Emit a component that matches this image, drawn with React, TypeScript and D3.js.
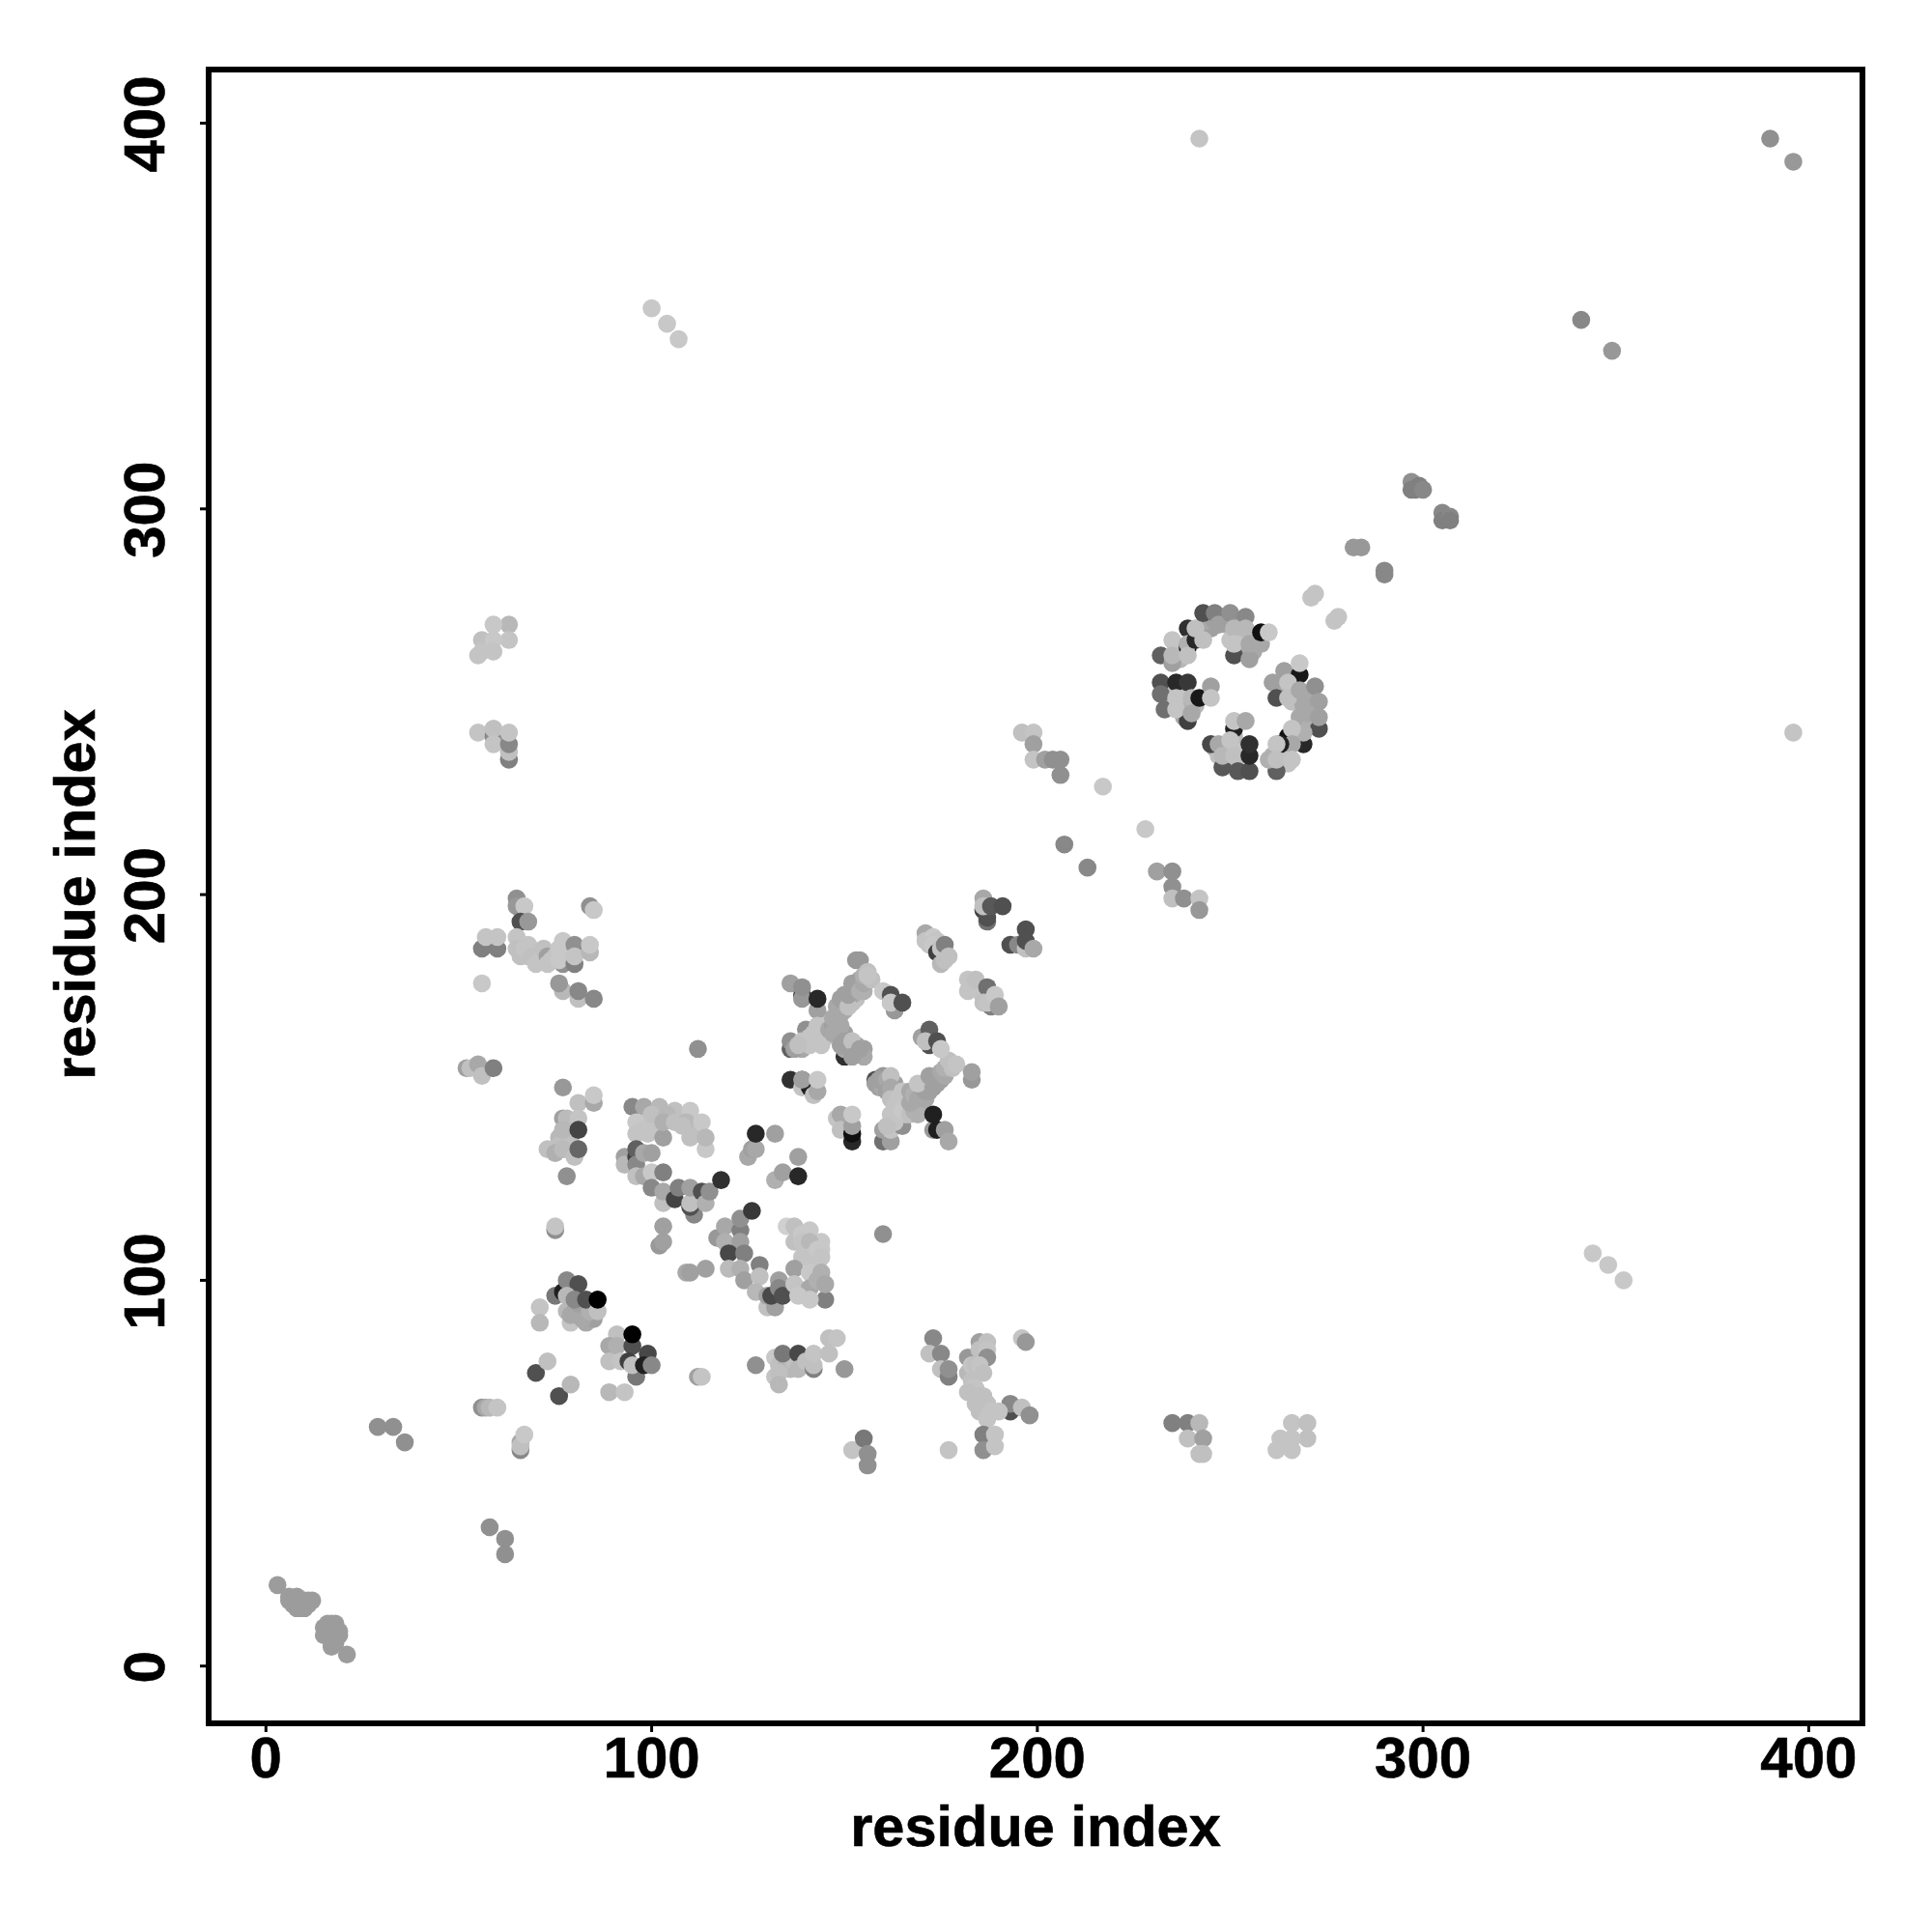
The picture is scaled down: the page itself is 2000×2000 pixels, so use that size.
import React from "react";
import * as d3 from "d3";

type P = [number, number, number];

const xTicks = [0, 100, 200, 300, 400];
const yTicks = [0, 100, 200, 300, 400];
const axisTitle = "residue index";

// [residue x, residue y, grey level]
const nTerminal: P[] = [[3,21,0x9c],[6,18,0x9c],[7,17,0x9c],[8,18,0x9c],[8,17,0x9c],[9,17,0x9c],[10,17,0x9c],[11,17,0x9c],[8,15,0x9c],[9,16,0x9c],[10,15,0x9c],[9,15,0x9c],[8,16,0x9c],[11,16,0x9c],[7,16,0x9c],[6,17,0x9c],[12,17,0x9c],[15,10,0x9c],[16,9,0x9c],[17,10,0x9c],[18,11,0x9c],[18,9,0x9c],[17,7,0x9c],[17,6,0x9c],[16,11,0x9c],[17,11,0x9c],[18,10,0x9c],[19,9,0x9c],[18,8,0x9c],[18,7,0x9c],[16,8,0x9c],[17,8,0x9c],[17,5,0x9c],[18,6,0x9c],[19,8,0x9c],[15,8,0x9c],[21,3,0x9c]];
const lowLeft: P[] = [[29,62,0x90],[33,62,0x90],[36,58,0x90],[58,36,0x90],[62,33,0x90],[62,29,0x90],[56,67,0x90],[57,67,0xa8],[58,67,0xb8],[60,67,0xc4],[66,56,0x88],[66,58,0xa8],[66,57,0xc0],[67,60,0xc8]];
const block70: P[] = [[70,76,0x50],[73,79,0xc0],[76,70,0x50],[79,73,0xb8],[71,93,0xc4],[71,89,0xb8],[75,96,0x78],[77,97,0x20],[78,100,0x88],[81,99,0x50],[79,89,0xc4],[83,89,0xa8],[85,90,0xa0],[78,92,0xb8],[79,91,0xa8],[83,92,0xa0],[80,92,0xa8],[82,90,0xa8],[81,94,0xa0],[84,92,0xb0],[78,96,0xb8],[80,95,0x88],[83,95,0x50],[86,92,0xc0],[86,95,0x00]];
const block90: P[] = [[89,71,0xb8],[93,71,0xc4],[91,86,0xc0],[89,83,0xa8],[91,83,0xb0],[95,83,0x50],[99,81,0x48],[89,79,0xc0],[92,79,0xc4],[94,79,0x40],[96,75,0x78],[95,78,0xc0],[98,78,0x20],[100,78,0x88],[95,86,0x00]];
const left110: P[] = [[76,137,0xb8],[78,137,0xb8],[79,136,0xc0],[78,134,0xc0],[79,140,0xb8],[76,135,0xc0],[75,113,0x90],[75,114,0xc4],[52,155,0xa0],[53,155,0xc0],[55,156,0xa8],[56,153,0xc0],[59,155,0x80],[77,150,0x98],[81,146,0xc0],[85,146,0xa8],[85,148,0xc8],[77,142,0xa0],[78,142,0xbb],[81,142,0xc4],[77,139,0xb8],[81,139,0x44],[73,134,0xc0],[75,133,0xb0],[77,134,0xbb],[80,132,0xc0],[81,134,0x66],[78,127,0x90]];
const left180: P[] = [[56,177,0xc8],[56,186,0x80],[60,186,0x80],[57,189,0xc4],[60,189,0xc4],[65,199,0x90],[65,197,0x98],[67,197,0xc8],[66,193,0x50],[68,193,0x98],[65,189,0xc4],[65,186,0xc0],[66,184,0xc0],[68,187,0xc4],[68,184,0xc0],[67,186,0xc4],[69,184,0xc0],[70,182,0xc4],[71,183,0xc4],[72,186,0xc0],[73,184,0xa0],[73,182,0xc4],[74,183,0xc4],[75,184,0xc4],[77,182,0x90],[76,186,0xc8],[76,183,0xc8],[78,184,0xc8],[78,186,0xc8],[77,188,0xc8],[80,182,0x80],[80,187,0x90],[80,184,0xc4],[84,185,0xb8],[84,187,0xc8],[84,197,0x90],[85,196,0xc8],[77,175,0xb8],[76,177,0x98],[81,173,0xc0],[81,175,0x88],[85,173,0x88]];
const left260: P[] = [[63,270,0xb8],[59,270,0xc8],[56,266,0xc0],[63,266,0xc4],[59,266,0xc8],[55,262,0xc4],[56,263,0xc4],[59,263,0xc4],[55,242,0xc4],[59,241,0x88],[59,243,0xc0],[59,239,0xc4],[63,235,0x80],[63,237,0xc0],[63,239,0x88],[63,242,0xc4]];
const mid120: P[] = [[95,145,0x88],[98,145,0xa8],[102,145,0xb8],[106,144,0xc0],[110,144,0xc8],[96,141,0xc8],[96,138,0xc4],[99,141,0xc8],[99,138,0xc4],[98,139,0xc4],[101,139,0xc4],[100,143,0xc0],[104,143,0xb8],[103,137,0xa0],[103,141,0xb0],[106,141,0xc0],[109,141,0xb8],[108,140,0xc0],[112,138,0xc0],[113,141,0xc8],[110,137,0xc0],[114,134,0xc8],[114,137,0xb8],[93,132,0xa0],[93,130,0xb8],[96,132,0x40],[96,134,0x60],[96,130,0x88],[96,127,0xc0],[98,133,0xa8],[100,133,0xa0],[98,127,0xa8],[100,128,0xc8],[103,128,0x80],[100,124,0x88],[103,120,0xc0],[103,123,0xa8],[106,121,0x44],[107,124,0x80],[111,117,0x88],[110,119,0x50],[110,120,0xc0],[110,124,0xa0],[113,123,0x50],[114,120,0xb0],[115,123,0x90],[118,126,0x30]];
const mid105: P[] = [[102,109,0x98],[103,110,0xa0],[103,114,0xa0],[109,102,0xa8],[110,102,0xa0],[114,103,0xa0],[117,111,0x98],[119,114,0xa8],[123,113,0x80],[119,110,0xb0],[123,110,0xa0],[123,116,0x90],[126,118,0x38],[120,107,0x48],[124,107,0x80],[120,103,0xbb],[123,103,0xb0],[124,100,0xa0],[128,104,0x80],[128,101,0xc0],[127,97,0xb8],[130,93,0xc0],[132,93,0xa0],[130,96,0xa0],[131,96,0x48],[133,100,0xa0],[133,98,0x88],[134,96,0x50],[112,160,0x90],[160,112,0x90]];
const right105: P[] = [[135,114,0xd0],[137,114,0xc0],[141,113,0xc8],[144,110,0xc8],[137,110,0xc0],[139,112,0xc8],[139,110,0xc4],[141,110,0xb8],[143,108,0xc8],[144,108,0xc8],[141,106,0xc8],[144,106,0xc4],[139,106,0xc4],[143,104,0xc4],[142,104,0xc4],[137,103,0xa0],[141,102,0xc8],[137,99,0xc4],[141,98,0xa8],[144,102,0xb0],[143,100,0xb0],[145,95,0x80],[145,99,0xa8],[138,96,0xc8],[141,95,0xc8]];
const mid130: P[] = [[125,132,0xa8],[126,134,0xa0],[127,134,0xa8],[127,138,0x28],[132,138,0xa0],[132,126,0xb0],[134,128,0xa0],[138,132,0xa0],[138,127,0x28]];
const low80: P[] = [[112,75,0xa0],[113,75,0xc4],[127,78,0x90],[132,80,0xc8],[133,78,0xc0],[134,78,0xc0],[135,78,0xb8],[136,77,0xb8],[137,79,0xc0],[134,81,0x78],[138,81,0x48],[132,75,0xc4],[133,76,0xc0],[133,73,0xb8],[138,77,0xb8],[140,79,0xc0],[142,77,0x80],[142,78,0xc0],[142,81,0xc4],[146,81,0xc0],[146,85,0xc0],[148,85,0xc4],[150,77,0x98],[152,56,0xc4],[155,59,0x78],[156,55,0x90],[156,52,0x90],[177,56,0xc4]];
const low180: P[] = [[173,85,0x88],[172,81,0xc0],[175,81,0x88],[175,77,0xc0],[177,75,0x80],[177,77,0x90],[182,80,0x98],[185,84,0xa0],[187,84,0xc0],[185,82,0xc0],[187,82,0xc4],[187,80,0x90],[182,76,0xb8],[184,76,0xc0],[183,78,0xc4],[184,78,0xc0],[185,78,0xc4],[186,76,0xc0],[183,74,0xc0],[184,72,0xc4],[183,72,0xc4],[182,71,0xc0],[185,70,0xc0],[186,70,0xc0],[187,68,0xc0],[184,68,0xc0],[185,66,0xc0],[186,66,0xc0],[188,66,0xc4],[187,64,0xc4],[193,66,0x50],[193,68,0x88],[190,66,0xc4],[186,60,0x80],[189,60,0xc4],[186,56,0x90],[189,57,0xc4],[196,85,0xc4],[197,84,0x98],[196,67,0xc0],[198,65,0x90]];
const low250: P[] = [[235,63,0x80],[239,63,0x80],[242,63,0xb8],[239,59,0xc0],[243,59,0xa0],[242,55,0xc0],[243,55,0xc0],[266,63,0xc4],[270,63,0xc0],[270,59,0xc0],[266,59,0xc4],[263,59,0xc4],[262,56,0xc4],[266,56,0xc4]];
const crossA: P[] = [[136,177,0xa0],[139,174,0x40],[139,173,0x98],[139,176,0x90],[143,170,0xa0],[143,173,0x28],[136,160,0x60],[136,162,0x90],[140,165,0x90],[139,160,0xa8],[139,162,0xc4],[143,162,0xc4],[143,166,0xc4],[150,158,0x30],[141,161,0xc4],[141,163,0xc4],[142,164,0xc4],[144,164,0xc4],[145,166,0xc4],[145,163,0xc4],[146,164,0xc4],[144,161,0xc4],[137,160,0xa0],[138,161,0xc0],[146,165,0xa8],[147,166,0xa0],[148,167,0xa8],[148,168,0xa0],[149,169,0xa8],[149,170,0xa0],[150,170,0xa8],[150,172,0xa0],[151,172,0xa8],[152,172,0xc0],[153,173,0xc0],[150,174,0xa0],[152,174,0xa8],[152,175,0xa0],[153,175,0xa0],[153,177,0xa8],[154,177,0xa0],[154,178,0xa8],[148,164,0xa0],[149,163,0xa8],[150,164,0xa0],[151,161,0xa0],[152,160,0xa8],[153,161,0xa0],[153,159,0xa0],[154,159,0xa0],[155,160,0xa0],[155,158,0xa8],[150,160,0xa8],[147,164,0xa8],[149,161,0xa0],[149,166,0xa8],[147,168,0xa8],[148,171,0xa8],[149,173,0xa0],[151,171,0xc0],[151,174,0xa0],[152,177,0xa0],[154,175,0xb0],[153,183,0x98],[154,183,0x98],[155,175,0xb0],[155,177,0xa8],[155,179,0xb0],[156,180,0xc0],[157,178,0xc0],[156,179,0xc4],[150,162,0xa0],[152,162,0xc0],[152,158,0xa0],[154,160,0xa0]];
const crossB: P[] = [[136,152,0x30],[139,152,0x20],[139,150,0xc4],[141,150,0x20],[142,148,0xc0],[139,152,0xa0],[143,149,0xa8],[143,152,0xc8],[149,141,0x30],[148,142,0xc4],[149,143,0xa8],[149,139,0xc0],[152,136,0x28],[152,138,0x10],[152,140,0xa0],[152,143,0xc8],[158,152,0x50],[160,136,0x70],[162,136,0xa0],[160,139,0xa0],[162,139,0xc4],[165,140,0x90],[158,151,0xa0],[160,153,0x98],[159,150,0xa0],[160,150,0xa8],[159,152,0xa0],[161,152,0xa8],[161,149,0xa0],[162,148,0xa8],[163,148,0xa0],[163,151,0xa0],[162,153,0xc0],[162,150,0xa8],[162,147,0xc0],[162,143,0xc4],[162,141,0xc4],[163,141,0xc4],[161,140,0xc0],[164,147,0xc4],[165,147,0xc0],[163,145,0xc4],[164,143,0xc4],[164,146,0xc4],[166,143,0xc4],[165,144,0xc8],[165,149,0xc4],[166,146,0xc8],[166,147,0xc4],[167,149,0xa8],[167,143,0xc0],[168,144,0xb0],[169,145,0xb0],[170,145,0xa8],[169,143,0xb0],[167,146,0xa8],[168,147,0xa8],[168,148,0xb0],[169,147,0xa8],[170,148,0xa8],[171,147,0xa8],[170,150,0xa0],[171,149,0xa0],[171,151,0xa0],[172,150,0xa8],[172,149,0xa0],[169,151,0xc4],[173,150,0xa0],[174,151,0xa0],[172,153,0xa0],[173,152,0xa0],[174,153,0xa0],[175,152,0xa0],[175,154,0xa8],[176,153,0xa8],[176,155,0xb0],[177,155,0xb0],[177,157,0xc0],[178,155,0xc0],[179,156,0xc4],[183,152,0x98],[183,154,0xa0],[173,139,0x98],[174,139,0x20],[176,139,0xa0],[177,136,0xa8],[173,143,0x20]];
const diag170: P[] = [[160,175,0xc8],[162,172,0xc0],[163,170,0x98],[162,174,0x50],[162,172,0xc8],[165,172,0x50],[170,163,0xa0],[172,161,0x50],[172,165,0x60],[171,162,0xc0],[174,162,0x50],[175,160,0xc8],[171,190,0xa8],[171,188,0xc4],[173,189,0xc8],[172,187,0xc4],[174,188,0xc4],[173,187,0xc8],[174,185,0x40],[175,186,0xc4],[176,185,0xc4],[175,182,0xb8],[176,187,0x80],[176,183,0xc0],[177,184,0xc0],[182,178,0xc4],[182,175,0xc4],[186,174,0x30],[184,176,0xc4],[185,175,0xc4],[184,178,0xc0],[187,176,0x70],[188,171,0x80],[186,172,0xc0],[187,172,0xc4],[189,174,0xc8],[190,171,0xa0]];
const diag195: P[] = [[186,199,0xa8],[186,196,0x40],[187,193,0x70],[187,194,0x50],[186,197,0xc0],[188,197,0x58],[191,197,0x50],[193,187,0x50],[195,187,0x88],[197,186,0xc0],[197,188,0x50],[197,191,0x50],[199,186,0xa8]];
const diag220: P[] = [[196,242,0xc0],[199,242,0xc4],[199,239,0xa0],[199,235,0xc4],[202,235,0xa0],[204,235,0x90],[206,235,0x90],[206,231,0x90],[207,213,0x88],[213,207,0x88],[217,228,0xc8],[228,217,0xc8],[231,206,0xa0],[235,206,0x90],[235,202,0x90],[235,199,0xc0],[238,199,0x90],[242,199,0xc4],[242,196,0x98]];
const ringFill: P[] = [[234,250,0xc4],[234,252,0xc0],[235,249,0xc4],[237,249,0xc4],[238,250,0xc4],[238,252,0xc4],[238,248,0xb0],[241,249,0xb8],[238,246,0xa8],[236,264,0xc4],[236,262,0xc4],[237,261,0xb8],[238,263,0xc0],[242,268,0xc4],[245,269,0xa0],[244,271,0xa8],[246,271,0xa0],[248,272,0xa0],[249,270,0xb0],[250,271,0xa8],[252,270,0xb0],[253,270,0xb0],[252,267,0xc4],[250,266,0xc4],[256,263,0xa8],[254,263,0xa8],[257,266,0xa8],[264,252,0xc4],[266,253,0xc4],[266,250,0xc0],[268,251,0xb0],[269,249,0xa8],[270,251,0xa8],[271,246,0xa8],[268,246,0xa8],[271,244,0xb0],[266,253,0xb8],[263,254,0xa8],[263,236,0xc4],[264,234,0xc4],[265,234,0xc4],[264,237,0xc0],[261,236,0xb0],[246,238,0xb0],[247,236,0xc0],[249,238,0xb8],[250,237,0xc0],[252,238,0xc4],[252,234,0xc4],[249,234,0xc0],[251,241,0xb8]];
const ringTop: P[] = [[232,262,0x60],[235,260,0xa0],[235,266,0xc4],[235,262,0xb8],[239,264,0x10],[239,269,0x30],[239,265,0xb0],[239,262,0xc0],[241,266,0x28],[241,269,0xc0],[243,266,0xc0],[243,273,0x50],[246,273,0x80],[247,270,0xa0],[250,273,0x90],[254,272,0x88],[251,262,0x50],[251,269,0xb8],[254,269,0xb8],[251,265,0xc4],[255,261,0xa0],[255,265,0xa8],[258,265,0xa8],[258,268,0x10],[260,268,0xc8]];
const ringLeft: P[] = [[232,255,0x50],[232,252,0x70],[233,248,0x70],[236,255,0x28],[239,255,0x38],[239,245,0x40],[236,251,0xc4],[236,248,0xc4],[240,251,0xb8],[240,247,0xa8],[242,251,0x18],[245,254,0xa0],[245,251,0xc4]];
const ringBottom: P[] = [[245,239,0x48],[247,239,0xa8],[248,233,0x58],[251,243,0x20],[251,245,0xc4],[254,245,0xa8],[250,240,0xc4],[248,236,0xb8],[251,236,0xc0],[252,232,0x58],[255,232,0x50],[255,236,0x28],[255,239,0x30]];
const ringRight: P[] = [[261,255,0xa0],[264,258,0xa0],[262,251,0x50],[268,257,0x18],[268,260,0xc8],[265,255,0xc4],[265,251,0xc0],[268,253,0xa8],[272,254,0x90],[273,250,0xa0],[270,247,0xa8],[273,243,0x50],[273,246,0xa0],[265,241,0x10],[269,239,0x28],[269,242,0xb0],[266,243,0xc4],[266,239,0xa8],[263,239,0x20],[262,239,0xc4],[262,232,0x60],[260,235,0xb0],[262,235,0xc0],[266,235,0xc4]];
const upperDiag: P[] = [[271,277,0xc4],[272,278,0xc4],[277,271,0xc4],[278,272,0xc4],[282,290,0x98],[284,290,0x98],[290,284,0x88],[290,283,0x88],[297,307,0x90],[298,306,0x90],[297,305,0x80],[298,305,0x80],[299,306,0x80],[300,305,0x88],[305,299,0x88],[306,298,0x88],[305,297,0x80],[307,298,0x88],[307,297,0x80]];
const farOff: P[] = [[100,352,0xc8],[104,348,0xc8],[107,344,0xc8],[344,107,0xc8],[348,104,0xc8],[352,100,0xc8],[341,349,0x88],[349,341,0x98],[390,396,0x90],[396,390,0x98],[242,396,0xc4],[396,242,0xc4]];

const allPoints: P[] = [
  ...nTerminal, ...lowLeft, ...block70, ...block90, ...left110, ...left180, ...left260, ...mid120, ...mid105,
  ...right105, ...mid130, ...low80, ...low180, ...low250, ...crossA, ...crossB, ...diag170, ...diag195, ...diag220,
  ...ringFill, ...ringTop, ...ringLeft, ...ringBottom, ...ringRight, ...upperDiag, ...farOff,
];

const FONT = '"Liberation Sans", Arial, sans-serif';

export default function App() {
  const x = d3.scaleLinear().domain([0, 400]).range([275.3, 1872.4]);
  const y = d3.scaleLinear().domain([0, 400]).range([1724.7, 127.5]);
  const frame = { l: 216, r: 1928, t: 72, b: 1784 };
  const bold = { fontFamily: FONT, fontWeight: 700, stroke: "#000", strokeWidth: 0.6 } as const;
  return (
    <svg width={2000} height={2000} style={{ position: "absolute", left: 0, top: 0, background: "#fff" }}>
      <g>
        {allPoints.map(([a, b, g], i) => (
          <circle key={i} cx={x(a)} cy={y(b)} r={9.3} fill={d3.rgb(g, g, g).formatHex()} />
        ))}
      </g>
      <rect x={frame.l} y={frame.t} width={frame.r - frame.l} height={frame.b - frame.t} fill="none" stroke="#000" strokeWidth={6} />
      {xTicks.map((t) => (
        <g key={t}>
          <line x1={x(t)} x2={x(t)} y1={frame.b} y2={frame.b + 9} stroke="#000" strokeWidth={3} />
          <text x={x(t)} y={1839.5} textAnchor="middle" fontSize={60} {...bold}>{t}</text>
        </g>
      ))}
      {yTicks.map((t) => (
        <g key={t}>
          <line x1={frame.l} x2={frame.l - 9} y1={y(t)} y2={y(t)} stroke="#000" strokeWidth={3} />
          <text transform={`translate(170,${y(t) + 1}) rotate(-90)`} textAnchor="middle" fontSize={60} {...bold}>{t}</text>
        </g>
      ))}
      <text x={1072} y={1911} textAnchor="middle" fontSize={59.5} {...bold}>{axisTitle}</text>
      <text transform={`translate(98,926) rotate(-90)`} textAnchor="middle" fontSize={59.5} {...bold}>{axisTitle}</text>
    </svg>
  );
}
